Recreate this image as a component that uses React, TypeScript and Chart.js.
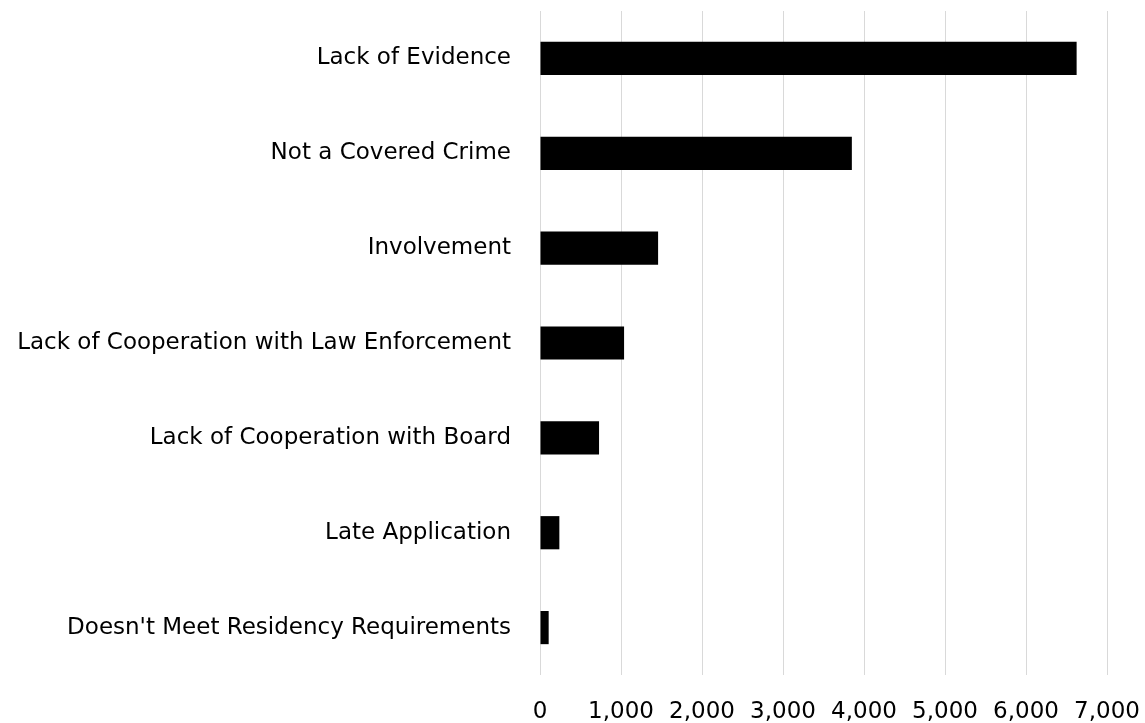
import React, { useEffect, useRef } from "react";
import { Chart, registerables } from "chart.js";

Chart.register(...registerables);

const categories = [
  "Lack of Evidence",
  "Not a Covered Crime",
  "Involvement",
  "Lack of Cooperation with Law Enforcement",
  "Lack of Cooperation with Board",
  "Late Application",
  "Doesn't Meet Residency Requirements",
];

const denials = [6625, 3850, 1458, 1038, 729, 239, 107];

const xTicks = [0, 1000, 2000, 3000, 4000, 5000, 6000, 7000];

const FONT = "'DejaVu Sans', sans-serif";

export default function App() {
  const ref = useRef<HTMLCanvasElement | null>(null);

  useEffect(() => {
    document.body.style.margin = "0";
    const canvas = ref.current;
    if (!canvas) return;
    const chart = new Chart(canvas, {
      type: "bar",
      data: {
        labels: categories,
        datasets: [
          {
            data: denials,
            backgroundColor: "#000000",
            borderWidth: 0,
            barPercentage: 0.7,
            categoryPercentage: 0.5,
          },
        ],
      },
      options: {
        indexAxis: "y",
        responsive: false,
        animation: false,
        layout: { padding: { top: 11, right: 38, left: 0, bottom: 0 } },
        plugins: {
          legend: { display: false },
          tooltip: { enabled: false },
        },
        scales: {
          x: {
            min: 0,
            max: 7000,
            afterBuildTicks: (scale: any) => {
              scale.ticks = xTicks.map((v) => ({ value: v }));
            },
            afterFit: (scale: any) => {
              scale.height = 48;
              scale.paddingLeft = 0;
              scale.paddingRight = 0;
            },
            grid: {
              color: "#d9d9d9",
              lineWidth: 1,
              drawTicks: false,
            },
            border: { display: false },
            ticks: {
              padding: 23,
              color: "#000000",
              font: { family: FONT, size: 23 },
              maxRotation: 0,
              callback: (v: any) => Number(v).toLocaleString("en-US"),
            },
          },
          y: {
            afterFit: (scale: any) => {
              scale.width = 540;
              scale.paddingTop = 0;
              scale.paddingBottom = 0;
            },
            grid: { display: false, drawTicks: false },
            border: { display: false },
            ticks: {
              padding: 29,
              color: "#000000",
              font: { family: FONT, size: 23 },
            },
          },
        },
      },
    });
    return () => chart.destroy();
  }, []);

  return (
    <div style={{ position: "absolute", left: 0, top: 0, width: 1145, height: 723, background: "#fff" }}>
      <canvas ref={ref} width={1145} height={723} style={{ display: "block" }} />
    </div>
  );
}
